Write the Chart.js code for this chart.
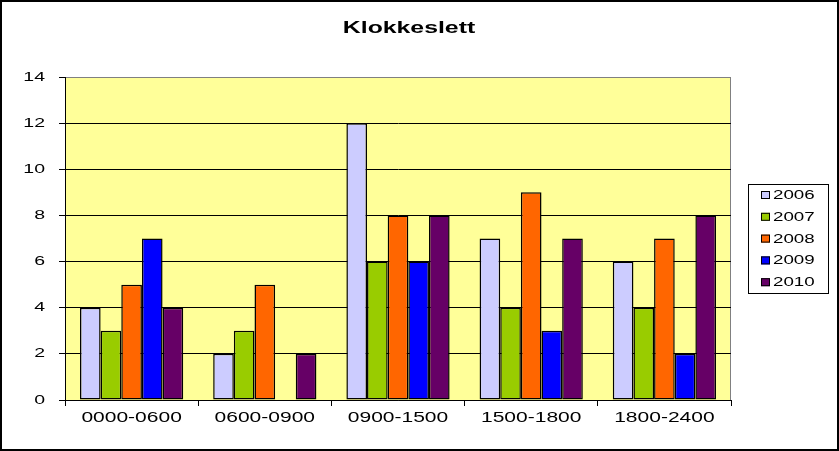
<!DOCTYPE html>
<html>
<head>
<meta charset="utf-8">
<script src="https://cdn.jsdelivr.net/npm/chart.js@4.4.1/dist/chart.umd.min.js"></script>
<style>
  html, body { margin: 0; padding: 0; background: #fff; }
  #wrap { width: 839px; height: 451px; position: relative; }
</style>
</head>
<body>
<div id="wrap"><canvas id="c" width="839" height="451"></canvas></div>
<script>
const titleText = 'Klokkeslett';
const categories = ['0000-0600', '0600-0900', '0900-1500', '1500-1800', '1800-2400'];
const seriesNames = ['2006', '2007', '2008', '2009', '2010'];
const values2006 = [4, 2, 12, 7, 6];
const values2007 = [3, 3, 6, 4, 4];
const values2008 = [5, 5, 8, 9, 7];
const values2009 = [7, 0, 6, 3, 2];
const values2010 = [4, 2, 8, 7, 8];
const seriesColors = ['#CCCCFF', '#99CC00', '#FF6600', '#0000FF', '#660066'];
const yMin = 0, yMax = 14, yStep = 2;

const FONT = '"Liberation Sans", Arial, sans-serif';
const canvas = document.getElementById('c');
const ctx = canvas.getContext('2d');

// The reference text is horizontally stretched; emulate by scaling text along x.
let textScaleX = 1.5;
const protoFill = CanvasRenderingContext2D.prototype.fillText;
ctx.fillText = function (text, x, y, maxWidth) {
  this.save();
  this.translate(x, y);
  this.scale(textScaleX, 1);
  if (maxWidth === undefined || maxWidth === null) protoFill.call(this, text, 0, 0);
  else protoFill.call(this, text, 0, 0, maxWidth / textScaleX);
  this.restore();
};

const allValues = [values2006, values2007, values2008, values2009, values2010];
const datasets = seriesNames.map((name, i) => ({
  label: name,
  data: allValues[i],
  backgroundColor: seriesColors[i],
  borderColor: '#000000',
  borderWidth: 1.5,
  borderSkipped: false,
  categoryPercentage: 0.775,
  barPercentage: 1.0
}));

const decor = {
  id: 'decor',
  beforeDraw(chart) {
    const c = chart.ctx, a = chart.chartArea;
    c.save();
    c.fillStyle = '#FFFFFF';
    c.fillRect(0, 0, chart.width, chart.height);
    c.fillStyle = '#FFFF99';
    c.fillRect(a.left, a.top, a.right - a.left, a.bottom - a.top);
    c.strokeStyle = '#808080';
    c.lineWidth = 1;
    c.beginPath();
    c.moveTo(a.left, a.top + 0.5);
    c.lineTo(a.right - 0.5, a.top + 0.5);
    c.lineTo(a.right - 0.5, a.bottom);
    c.stroke();
    c.restore();
  },
  afterDraw(chart) {
    const c = chart.ctx;
    c.save();
    // title
    textScaleX = 1.55;
    c.fillStyle = '#000';
    c.font = 'bold 16px ' + FONT;
    c.textAlign = 'center';
    c.textBaseline = 'middle';
    c.fillText(titleText, 409, 29);
    // legend
    textScaleX = 1.5;
    const bx = 748, by = 184, bw = 80, bh = 109;
    c.strokeStyle = '#000';
    c.lineWidth = 1;
    c.strokeRect(bx + 0.5, by + 0.5, bw, bh);
    c.font = '12.5px ' + FONT;
    c.textAlign = 'left';
    chart.data.datasets.forEach((ds, i) => {
      const ry = 195 + i * 21.8;
      c.fillStyle = ds.backgroundColor;
      c.fillRect(761, ry - 4, 9, 8);
      c.strokeRect(761.5, ry - 3.5, 8, 7);
      c.fillStyle = '#000';
      c.fillText(ds.label, 773, ry + 0.5);
    });
    // outer border
    c.strokeStyle = '#000';
    c.lineWidth = 2;
    c.strokeRect(1, 1, chart.width - 2, chart.height - 2);
    c.restore();
  }
};

new Chart(ctx, {
  type: 'bar',
  data: { labels: categories, datasets },
  options: {
    responsive: false,
    animation: false,
    layout: { padding: { top: 77, right: 108, bottom: 0, left: 0 } },
    plugins: {
      legend: { display: false },
      title: { display: false },
      tooltip: { enabled: false }
    },
    scales: {
      x: {
        afterFit(s) { s.height = 51; },
        grid: { drawOnChartArea: false, drawTicks: true, tickLength: 6, color: '#000', offset: true },
        border: { display: true, color: '#000', width: 1 },
        ticks: { color: '#000', font: { family: FONT, size: 14 }, padding: 4, maxRotation: 0 }
      },
      y: {
        min: yMin, max: yMax,
        afterFit(s) { s.width = 65; },
        grid: {
          color: (c) => (c.tick && c.tick.value === yMax ? '#808080' : '#000'),
          tickColor: '#000',
          tickLength: 6, lineWidth: 1
        },
        border: { display: true, color: '#000', width: 1 },
        ticks: { stepSize: yStep, color: '#000', font: { family: FONT, size: 13 }, padding: 14 }
      }
    }
  },
  plugins: [decor]
});
</script>
</body>
</html>
